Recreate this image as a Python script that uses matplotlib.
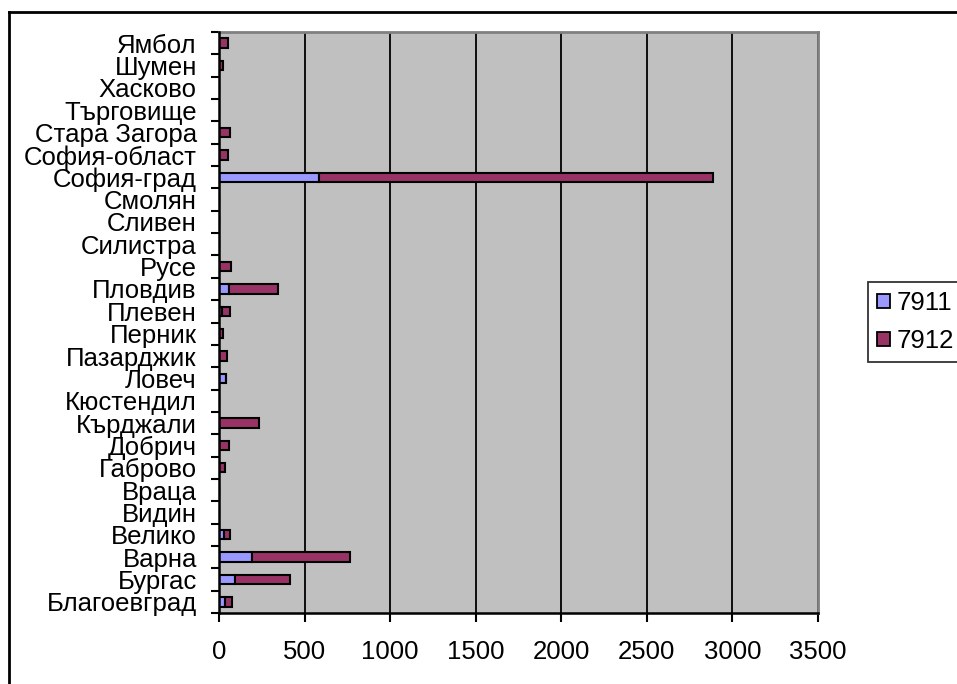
import matplotlib
matplotlib.use("Agg")
import matplotlib.pyplot as plt
import numpy as np
from matplotlib.lines import Line2D
from matplotlib.patches import Patch

plt.rcParams['font.family'] = ['Liberation Sans', 'DejaVu Sans']

regions = ["Благоевград", "Бургас", "Варна", "Велико", "Видин", "Враца",
           "Габрово", "Добрич", "Кърджали", "Кюстендил", "Ловеч", "Пазарджик",
           "Перник", "Плевен", "Пловдив", "Русе", "Силистра", "Сливен",
           "Смолян", "София-град", "София-област", "Стара Загора",
           "Търговище", "Хасково", "Шумен", "Ямбол"]
series_names = ["7911", "7912"]
values_7911 = [35, 93, 190, 30, 0, 0, 0, 0, 0, 0, 38, 0, 0, 20, 60, 0,
               0, 0, 0, 585, 0, 0, 0, 0, 0, 0]
values_7912 = [41, 324, 578, 32, 0, 0, 35, 60, 235, 0, 0, 48, 25, 42, 283,
               72, 0, 0, 0, 2300, 50, 62, 0, 0, 25, 50]
x_ticks = [0, 500, 1000, 1500, 2000, 2500, 3000, 3500]

W, H = 957, 684
FS = 18.5
fig = plt.figure(figsize=(W / 100, H / 100), dpi=100)
ax = fig.add_axes([219 / W, (H - 613) / H, (818 - 219) / W, (613 - 32) / H])
ax.set_facecolor('#C0C0C0')

y = np.arange(len(regions))
c1, c2 = '#9999FF', '#993366'
ax.barh(y, values_7911, height=0.42, color=c1, edgecolor='black',
        linewidth=1.5, zorder=3)
ax.barh(y, values_7912, height=0.42, left=values_7911, color=c2,
        edgecolor='black', linewidth=1.5, zorder=3)

ax.set_xlim(0, 3500)
ax.set_ylim(-0.5, len(regions) - 0.5)
ax.set_xticks(x_ticks)
ax.set_xticklabels([str(v) for v in x_ticks], fontsize=FS)
ax.set_yticks(y)
ax.set_yticklabels(regions, fontsize=FS)
ax.set_yticks(np.arange(len(regions) + 1) - 0.5, minor=True)
ax.tick_params(axis='y', which='major', length=0, pad=16)
ax.tick_params(axis='y', which='minor', length=6, width=1.5, direction='out')
ax.tick_params(axis='x', which='major', length=6.5, width=1.5, pad=13)
ax.grid(axis='x', color='black', linewidth=1.3, zorder=1)
ax.set_axisbelow(True)

for side in ('left', 'bottom'):
    ax.spines[side].set_color('black')
    ax.spines[side].set_linewidth(1.8)
    ax.spines[side].set_zorder(4)
for side in ('top', 'right'):
    ax.spines[side].set_color('#808080')
    ax.spines[side].set_linewidth(2)

handles = [Patch(facecolor=c1, edgecolor='black', linewidth=1.3),
           Patch(facecolor=c2, edgecolor='black', linewidth=1.3)]
leg = fig.legend(handles, series_names, loc='upper left',
                 bbox_to_anchor=(868 / W, 1 - 282 / H), fontsize=FS,
                 frameon=True, fancybox=False, edgecolor='black',
                 handlelength=0.5, handleheight=0.5, handletextpad=0.25,
                 borderpad=0.35, labelspacing=0.55, borderaxespad=0)
leg.get_frame().set_linewidth(1.3)

# outer chart frame
fig.add_artist(Line2D([8.5 / W, 8.5 / W], [0, 1 - 12 / H], color='black',
                      linewidth=2, transform=fig.transFigure))
fig.add_artist(Line2D([8.5 / W, 1], [1 - 12 / H, 1 - 12 / H], color='black',
                      linewidth=2, transform=fig.transFigure))

fig.savefig('out.png', dpi=100)
